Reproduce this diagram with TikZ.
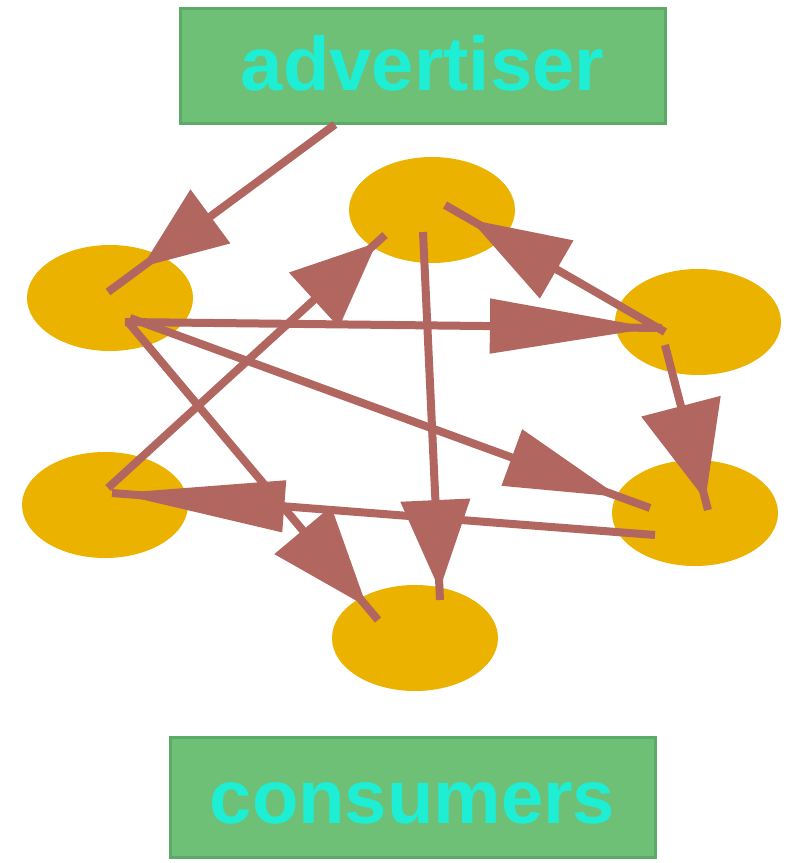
\documentclass[tikz,border=0pt]{standalone}
\usepackage{fontspec}
\setmainfont{Liberation Sans}
\usetikzlibrary{arrows.meta,decorations.markings,calc,shapes.geometric}
\definecolor{boxgreen}{RGB}{110,192,118}
\definecolor{boxedge}{RGB}{92,170,104}
\definecolor{txtcyan}{RGB}{30,238,212}
\definecolor{gold}{RGB}{236,178,0}
\definecolor{arrowc}{RGB}{178,102,96}
\begin{document}
\begin{tikzpicture}[x=0.5pt,y=-0.5pt,
  box/.style={draw=boxedge, line width=1.5pt, fill=boxgreen, inner sep=0pt,
    text=txtcyan, font=\bfseries\fontsize{38}{40}\selectfont, text depth=0pt},
  blob/.style={ellipse, fill=gold, minimum width=83pt, minimum height=53pt, inner sep=0pt},
  link/.style={draw=arrowc, color=arrowc, line width=4pt},
  headat/.style n args={3}{postaction={decorate},
    decoration={markings, mark=at position #1 with {\arrow{Triangle[length=#2, width=#3]}}}}
]
\fill[white] (0,0) rectangle (790,863);
\useasboundingbox (0,0) rectangle (790,863);

% boxes
\node[box, minimum width=242.5pt, minimum height=57.5pt, text height=24.5pt] (adv) at (422.5,65.5) {advertiser};
\node[box, minimum width=242.5pt, minimum height=60pt, text height=26pt] (cons) at (412.5,797) {consumers};

% ellipses
\node[blob] (A) at (110,298) {};
\node[blob] (B) at (432,210) {};
\node[blob] (C) at (698,322) {};
\node[blob] (D) at (105,505) {};
\node[blob] (E) at (695,513) {};
\node[blob] (F) at (415,638) {};

% connectors
\draw[link, headat={0.85}{42.5pt}{32.5pt}]
  ($(adv.south)+(-87.5,0)$) -- ($(A.center)+(-2,-6)$);
\draw[link, headat={0.985}{82pt}{26.5pt}]
  ($(A.center)+(15,24)$) -- ($(C.center)+(-36,6)$);
\draw[link, headat={0.97}{42.5pt}{36pt}]
  ($(D.center)+(3,-17)$) -- ($(B.center)+(-47,25)$);
\draw[link, headat={0.886}{50pt}{32.5pt}]
  ($(C.center)+(-33,10)$) -- ($(B.center)+(13,-5)$);
\draw[link, headat={0.942}{57.5pt}{29pt}]
  ($(A.center)+(20,20)$) -- ($(E.center)+(-45,-5)$);
\draw[link, headat={0.956}{50pt}{36pt}]
  ($(A.center)+(18,24)$) -- ($(F.center)+(-37,-18)$);
\draw[link, headat={0.973}{45pt}{34pt}]
  ($(B.center)+(-9,22)$) -- ($(F.center)+(25,-38)$);
\draw[link, headat={0.94}{48.5pt}{40pt}]
  ($(C.center)+(-33,23)$) -- ($(E.center)+(13,-3)$);
\draw[link, headat={0.995}{85pt}{25pt}]
  ($(E.center)+(-40,22)$) -- ($(D.center)+(7,-12)$);
\end{tikzpicture}
\end{document}
